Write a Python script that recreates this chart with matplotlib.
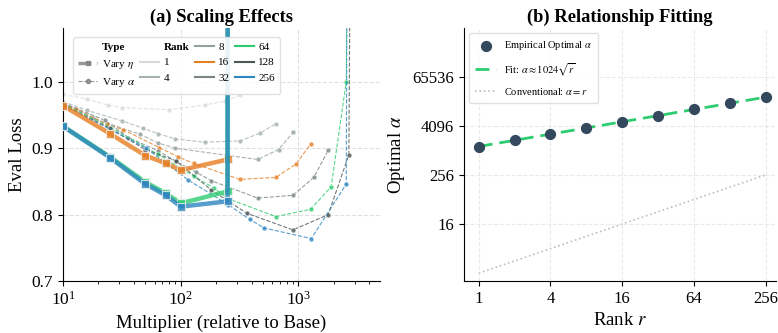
import numpy as np
import matplotlib
matplotlib.use('Agg')
import matplotlib.pyplot as plt
from matplotlib.lines import Line2D
from matplotlib.ticker import FixedLocator, FixedFormatter, NullFormatter

plt.rcParams['font.family'] = ['Liberation Serif', 'DejaVu Serif']
plt.rcParams['mathtext.fontset'] = 'stix'

# ---- (a) data: Vary eta (thick, solid)
eta_x = {16: [10, 25, 50, 75, 100, 250],
         64: [10, 25, 50, 75, 100, 250, 255],
         256: [10, 25, 50, 75, 100, 250, 255]}
eta_y = {16: [0.964, 0.922, 0.889, 0.877, 0.867, 0.883],
         64: [0.933, 0.887, 0.849, 0.832, 0.817, 0.835, 3.0],
         256: [0.933, 0.886, 0.846, 0.829, 0.812, 0.820, 3.0]}

# ---- (a) data: Vary alpha (thin, dashed)
alpha_x = {1: [10, 16, 24, 32, 80, 160, 240, 320],
           4: [10, 16, 32, 48, 64, 90, 160, 320, 476, 643],
           8: [10, 18, 45, 64, 90, 450, 678, 903],
           16: [10, 13, 23.5, 32.5, 65.6, 95, 129, 318, 643, 950, 1268],
           32: [10, 22.7, 35.8, 64.5, 91.6, 135, 182, 450, 898, 1352, 1790],
           64: [10, 25.6, 64, 129, 191, 253, 643, 1268, 1898, 2548, 2650],
           128: [10, 25, 50, 91, 182, 365, 898, 1790, 2682, 2800],
           256: [10, 51, 116, 253, 385, 508, 1286, 2548, 2620]}
alpha_y = {1: [0.981, 0.974, 0.965, 0.961, 0.958, 0.965, 0.971, 0.980],
           4: [0.970, 0.957, 0.941, 0.930, 0.922, 0.914, 0.909, 0.911, 0.923, 0.937],
           8: [0.968, 0.945, 0.921, 0.908, 0.900, 0.883, 0.898, 0.924],
           16: [0.966, 0.959, 0.936, 0.928, 0.901, 0.887, 0.877, 0.853, 0.856, 0.876, 0.906],
           32: [0.968, 0.942, 0.916, 0.896, 0.880, 0.864, 0.851, 0.825, 0.829, 0.856, 0.897],
           64: [0.967, 0.931, 0.891, 0.858, 0.840, 0.824, 0.797, 0.808, 0.842, 1.0, 1.4],
           128: [0.965, 0.930, 0.898, 0.881, 0.837, 0.802, 0.777, 0.800, 0.890, 1.4],
           256: [0.965, 0.900, 0.852, 0.815, 0.793, 0.780, 0.764, 0.846, 1.4]}

rank_colors = {1: '#d5dbdb', 4: '#a6b1b2', 8: '#95a0a1', 16: '#e67e22',
               32: '#7b8586', 64: '#2ecc71', 128: '#4d5656', 256: '#2e86c1'}

# ---- (b) data
ranks = [1, 2, 4, 8, 16, 32, 64, 128, 256]
opt_alpha = [1270, 1820, 2556, 3590, 5150, 7230, 10300, 14460, 20730]

fig = plt.figure(figsize=(7.78, 3.33), dpi=100)
ax1 = fig.add_axes([0.081, 0.156, 0.407, 0.760])
ax2 = fig.add_axes([0.596, 0.156, 0.402, 0.760])

# (a) thin dashed lines
for r in alpha_x:
    ax1.plot(alpha_x[r], alpha_y[r], '--', color=rank_colors[r], lw=0.8, alpha=0.8,
             marker='o', ms=3.5, mec='white', mew=0.4, zorder=2)
# (a) thick lines
for r in eta_x:
    ax1.plot(eta_x[r], eta_y[r], '-', color=rank_colors[r], lw=3.2, alpha=0.8,
             marker='s', ms=5.5, mec='#f0f0f0', mew=0.8, zorder=3)

ax1.set_xscale('log')
ax1.set_xlim(10, 4900)
ax1.set_ylim(0.7, 1.081)
ax1.set_yticks([0.7, 0.8, 0.9, 1.0])
ax1.grid(True, which='major', ls='--', color='#cccccc', alpha=0.6, lw=0.8)
ax1.set_title('(a) Scaling Effects', fontsize=13.3, fontweight='bold', pad=4)
ax1.set_xlabel('Multiplier (relative to Base)', fontsize=13.5)
ax1.set_ylabel('Eval Loss', fontsize=13.5)
ax1.tick_params(labelsize=12.5)

blank = Line2D([], [], color='none')
handles = [blank,
           Line2D([], [], color='gray', lw=2.5, ls='--', marker='s', ms=3.5, alpha=0.8),
           Line2D([], [], color='gray', lw=0.8, ls='--', marker='o', ms=3, alpha=0.8),
           blank]
labels = ['Type', r'Vary $\eta$', r'Vary $\alpha$', 'Rank']
for r in [1, 4, 8, 16, 32, 64, 128, 256]:
    handles.append(Line2D([], [], color=rank_colors[r], lw=1.5))
    labels.append(str(r))
leg = ax1.legend(handles, labels, ncol=4, loc='upper left', bbox_to_anchor=(0.015, 0.985),
                 fontsize=8, handlelength=1.7, handletextpad=0.4, columnspacing=0.5,
                 labelspacing=0.5, framealpha=0.9, edgecolor='#dddddd', borderpad=0.45)
for t in leg.get_texts():
    if t.get_text() in ('Type', 'Rank'):
        t.set_fontweight('bold')

# (b)
log_r = np.log2(ranks)
coef = np.polyfit(log_r, np.log2(opt_alpha), 1)
fit_alpha = 2 ** np.polyval(coef, log_r)
ax2.plot(ranks, fit_alpha, '--', color='#2ecc71', lw=2, dashes=(5, 2.5),
         label=r'Fit: $\alpha \approx 1024\sqrt{r}$', zorder=2)
ax2.plot(ranks, ranks, ':', color='#95a5a6', lw=1.2, alpha=0.7,
         label=r'Conventional: $\alpha = r$', zorder=1)
ax2.scatter(ranks, opt_alpha, s=50, color='#34495e', zorder=3,
            label=r'Empirical Optimal $\alpha$')
ax2.set_xscale('log', base=2)
ax2.set_yscale('log', base=2)
ax2.set_xlim(2 ** -0.42, 2 ** 8.3)
ax2.set_ylim(2 ** -0.64, 2 ** 19.96)
ax2.xaxis.set_major_locator(FixedLocator([1, 4, 16, 64, 256]))
ax2.xaxis.set_major_formatter(FixedFormatter(['1', '4', '16', '64', '256']))
ax2.xaxis.set_minor_formatter(NullFormatter())
ax2.yaxis.set_major_locator(FixedLocator([16, 256, 4096, 65536]))
ax2.yaxis.set_major_formatter(FixedFormatter(['16', '256', '4096', '65536']))
ax2.yaxis.set_minor_formatter(NullFormatter())
ax2.minorticks_off()
ax2.grid(True, ls='--', color='#dddddd', alpha=0.6, lw=0.8)
ax2.set_title('(b) Relationship Fitting', fontsize=13.3, fontweight='bold', pad=4)
ax2.set_xlabel('Rank $r$', fontsize=13.5)
ax2.set_ylabel(r'Optimal $\alpha$', fontsize=13.5)
ax2.tick_params(labelsize=12)
h, l = ax2.get_legend_handles_labels()
order = [2, 0, 1]
ax2.legend([h[i] for i in order], [l[i] for i in order], loc='upper left', fontsize=7.5,
           framealpha=0.9, edgecolor='#dddddd', borderpad=0.6, labelspacing=0.8)

for ax in (ax1, ax2):
    ax.spines['top'].set_visible(False)
    ax.spines['right'].set_visible(False)

fig.savefig('out.png', dpi=100)
